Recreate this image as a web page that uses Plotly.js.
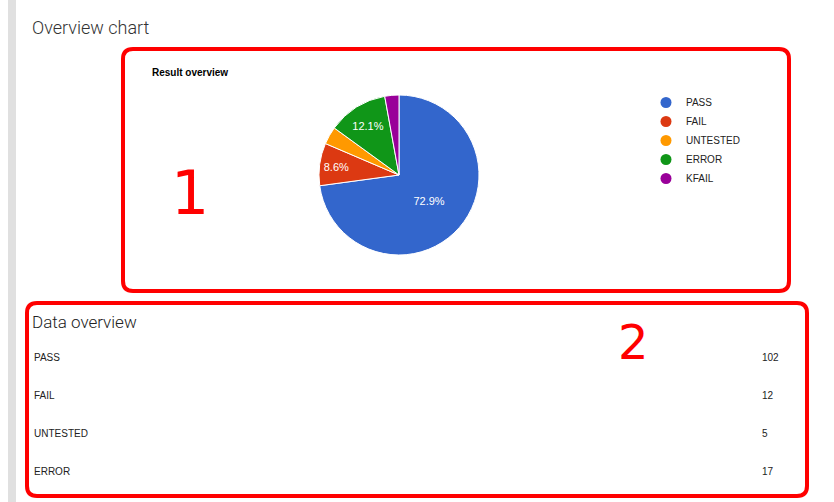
<!DOCTYPE html>
<html><head><meta charset="utf-8">
<script src="https://cdn.plot.ly/plotly-3.0.1.min.js"></script>
<style>html,body{margin:0;padding:0;background:#fff;}#chart{width:834px;height:502px;}</style>
</head><body><div id="chart"></div>
<script>
// ---- data ----
const categories = ['PASS', 'FAIL', 'UNTESTED', 'ERROR', 'KFAIL'];
const counts = [102, 12, 5, 17, 4];
const colors = ['#3366cc', '#dc3912', '#ff9900', '#109618', '#990099'];
const tableCategories = ['PASS', 'FAIL', 'UNTESTED', 'ERROR'];
const tableCounts = [102, 12, 5, 17];

const W = 834, H = 502;
const px = x => x / W;
const py = y => 1 - y / H;

function roundRect(x0, y0, x1, y1, r) {
  const rx = r / W, ry = r / H;
  const X0 = px(x0), X1 = px(x1), Y0 = py(y0), Y1 = py(y1);
  return `M ${X0 + rx},${Y0} L ${X1 - rx},${Y0} Q ${X1},${Y0} ${X1},${Y0 - ry} L ${X1},${Y1 + ry} Q ${X1},${Y1} ${X1 - rx},${Y1} L ${X0 + rx},${Y1} Q ${X0},${Y1} ${X0},${Y1 + ry} L ${X0},${Y0 - ry} Q ${X0},${Y0} ${X0 + rx},${Y0} Z`;
}

const total = counts.reduce((a, b) => a + b, 0);
const pie = {
  type: 'pie',
  labels: categories,
  values: counts,
  sort: false,
  direction: 'clockwise',
  rotation: 0,
  marker: { colors: colors, line: { color: '#ffffff', width: 1 } },
  texttemplate: counts.map(v => v / total >= 0.05 ? '%{percent:.1%}' : ''),
  textposition: 'inside',
  insidetextorientation: 'horizontal',
  insidetextfont: { family: 'Liberation Sans, Arial, sans-serif', size: 11, color: '#ffffff' },
  showlegend: false,
  hoverinfo: 'label+value+percent',
  domain: { x: [px(319), px(479)], y: [py(255), py(95)] }
};

const legendTraces = categories.map((c, i) => ({
  type: 'scatter', mode: 'markers', x: [null], y: [null], name: c,
  marker: { color: colors[i], size: 11, symbol: 'circle' }, showlegend: true, hoverinfo: 'skip'
}));

const base = { xref: 'paper', yref: 'paper', showarrow: false, yanchor: 'middle' };
const annotations = [
  Object.assign({}, base, { text: 'Overview chart', x: px(30), y: py(28), xanchor: 'left',
    font: { family: 'Roboto, sans-serif', size: 18, color: '#333333', weight: 300 } }),
  Object.assign({}, base, { text: '<b>Result overview</b>', x: px(150), y: py(73), xanchor: 'left',
    font: { family: 'Liberation Sans, Arial, sans-serif', size: 10, color: '#000000' } }),
  Object.assign({}, base, { text: '1', x: px(190), y: py(193), xanchor: 'center',
    font: { family: 'DejaVu Sans, sans-serif', size: 60, color: '#ff0000' } }),
  Object.assign({}, base, { text: 'Data overview', x: px(30), y: py(322), xanchor: 'left',
    font: { family: 'Roboto, sans-serif', size: 17, color: '#222222', weight: 300 } }),
  Object.assign({}, base, { text: '2', x: px(633), y: py(342), xanchor: 'center',
    font: { family: 'DejaVu Sans, sans-serif', size: 48, color: '#ff0000' } })
];
tableCategories.forEach((c, i) => {
  const y = 357 + i * 38;
  annotations.push(Object.assign({}, base, { text: c, x: px(32), y: py(y), xanchor: 'left',
    font: { family: 'Liberation Sans, Arial, sans-serif', size: 10, color: '#222222' } }));
  annotations.push(Object.assign({}, base, { text: String(tableCounts[i]), x: px(760), y: py(y), xanchor: 'left',
    font: { family: 'Liberation Sans, Arial, sans-serif', size: 10, color: '#222222' } }));
});

const layout = {
  width: W, height: H,
  margin: { l: 0, r: 0, t: 0, b: 0 },
  paper_bgcolor: '#ffffff', plot_bgcolor: '#ffffff',
  xaxis: { visible: false, domain: [0.99, 1] },
  yaxis: { visible: false, domain: [0.99, 1] },
  showlegend: true,
  legend: { x: px(646), y: py(88), xanchor: 'left', yanchor: 'top', bgcolor: 'rgba(0,0,0,0)',
    font: { family: 'Liberation Sans, Arial, sans-serif', size: 10, color: '#222222' }, itemwidth: 30, tracegroupgap: 0 },
  annotations: annotations,
  shapes: [
    { type: 'rect', xref: 'paper', yref: 'paper', x0: px(8), x1: px(16), y0: 0, y1: 1,
      fillcolor: '#e0e0e0', line: { width: 0 }, layer: 'below' },
    { type: 'path', xref: 'paper', yref: 'paper', path: roundRect(123, 49, 789, 291, 10),
      line: { color: '#ff0000', width: 4 } },
    { type: 'path', xref: 'paper', yref: 'paper', path: roundRect(27, 303, 807, 496, 10),
      line: { color: '#ff0000', width: 4 } }
  ]
};

Plotly.newPlot('chart', [pie].concat(legendTraces), layout, { displayModeBar: false, staticPlot: true });
</script></body></html>
